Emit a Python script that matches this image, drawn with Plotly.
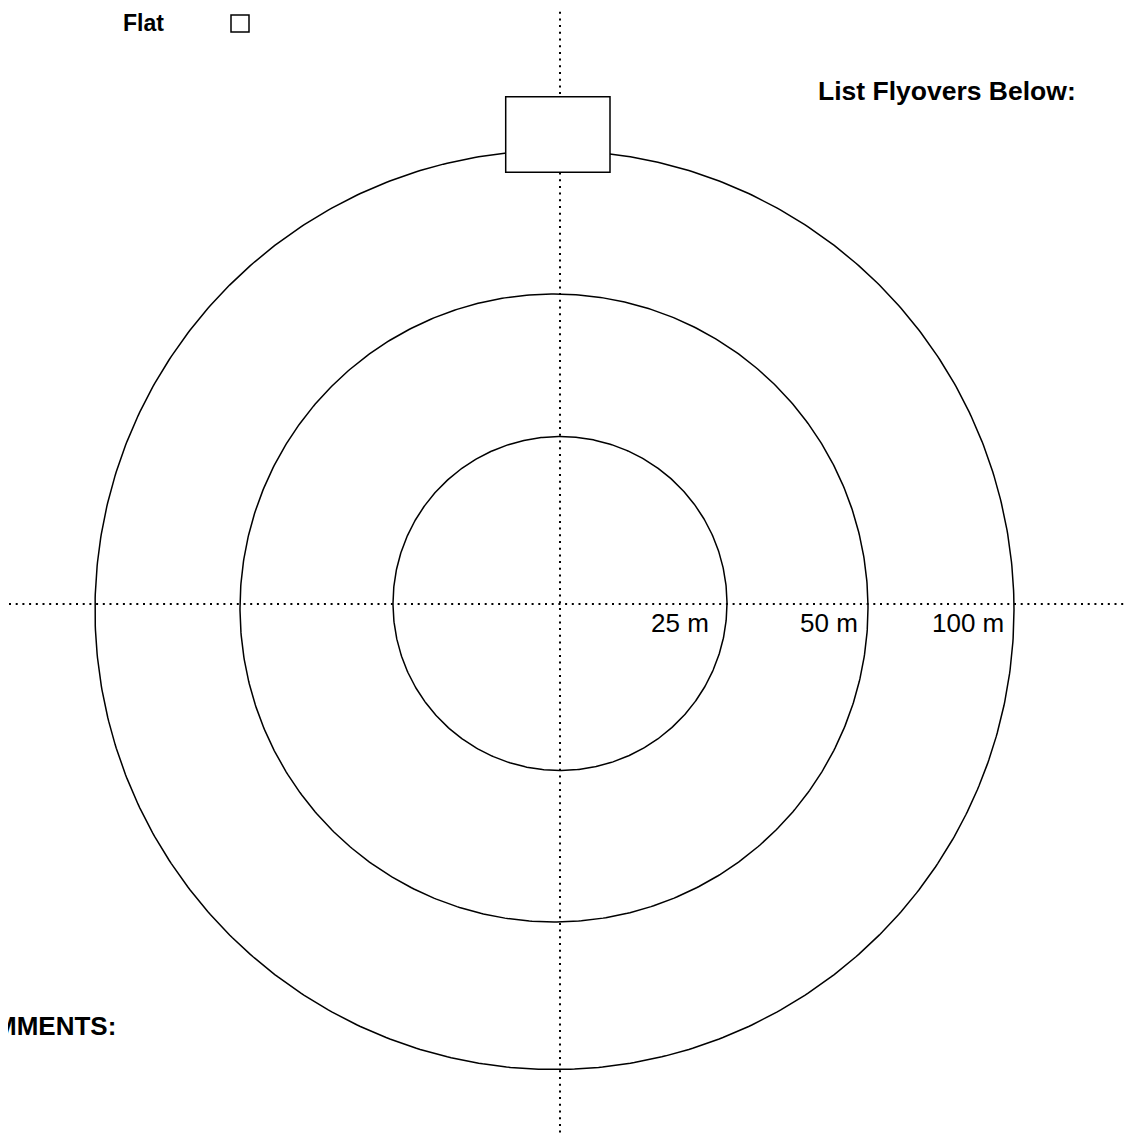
import numpy as np
import plotly.graph_objects as go

# ---------------- data ----------------
ring_labels = ["25 m", "50 m", "100 m"]
ring_radius = [167, 314, 459.5]          # drawn radius (plot units)
ring_cx = [560, 554, 554.5]
ring_cy = [603.5, 608, 610]

cross_x = 560      # vertical dotted axis
cross_y = 604      # horizontal dotted axis

header_texts = ["Flat", "List Flyovers Below:", "COMMENTS:"]

# ---------------- style / layout constants ----------------
W, H = 1133, 1136
OFF = 8            # page body margin of the browser
FONT = "Liberation Sans, Arial, sans-serif"
label_pad = [16, 8, 8]
label_y_off = 19

fig = go.Figure()

# dotted cross lines
fig.add_trace(go.Scatter(x=[9, W], y=[cross_y, cross_y], mode="lines",
                         line=dict(color="black", width=2, dash="2px,4.7px"),
                         hoverinfo="skip", showlegend=False))
fig.add_trace(go.Scatter(x=[cross_x, cross_x], y=[5, H], mode="lines",
                         line=dict(color="black", width=2, dash="2px,4.7px"),
                         hoverinfo="skip", showlegend=False))

# rings
t = np.linspace(0, 2 * np.pi, 721)
for r, cx, cy in zip(ring_radius, ring_cx, ring_cy):
    fig.add_trace(go.Scatter(x=cx + r * np.cos(t), y=cy + r * np.sin(t), mode="lines",
                             line=dict(color="black", width=1.5),
                             hoverinfo="skip", showlegend=False))

annotations = []
for lab, r, cx, cy, pad in zip(ring_labels, ring_radius, ring_cx, ring_cy, label_pad):
    annotations.append(dict(x=cx + r - pad, y=cross_y + label_y_off, xref="x", yref="y",
                            text=lab, showarrow=False, xanchor="right", yanchor="middle",
                            font=dict(family=FONT, size=26, color="black")))

annotations.append(dict(x=143.5, y=23, xref="x", yref="y", text=header_texts[0],
                        showarrow=False, xanchor="center", yanchor="middle",
                        font=dict(family=FONT, size=23, color="black", weight="bold")))
annotations.append(dict(x=947, y=91, xref="x", yref="y", text=header_texts[1],
                        showarrow=False, xanchor="center", yanchor="middle",
                        font=dict(family=FONT, size=26.5, color="black", weight="bold")))
annotations.append(dict(x=118, y=1026, xref="x", yref="y", text=header_texts[2],
                        showarrow=False, xanchor="right", yanchor="middle",
                        font=dict(family=FONT, size=26, color="black", weight="bold")))

shapes = [
    # marker box at top of outer ring
    dict(type="rect", xref="x", yref="y", x0=505.7, x1=610, y0=96.7, y1=172.3,
         line=dict(color="black", width=1.5), fillcolor="white", layer="above"),
    # checkbox next to "Flat"
    dict(type="rect", xref="x", yref="y", x0=231, x1=249, y0=15, y1=32,
         line=dict(color="black", width=1.5), fillcolor="white", layer="above"),
]

fig.update_layout(
    width=W - OFF, height=H - OFF, autosize=False,
    margin=dict(l=0, r=0, t=0, b=0),
    paper_bgcolor="white", plot_bgcolor="white",
    xaxis=dict(range=[OFF, W], visible=False, showgrid=False, zeroline=False, fixedrange=True),
    yaxis=dict(range=[H, OFF], visible=False, showgrid=False, zeroline=False, fixedrange=True),
    annotations=annotations, shapes=shapes, showlegend=False,
)

fig.write_html("out.html")
